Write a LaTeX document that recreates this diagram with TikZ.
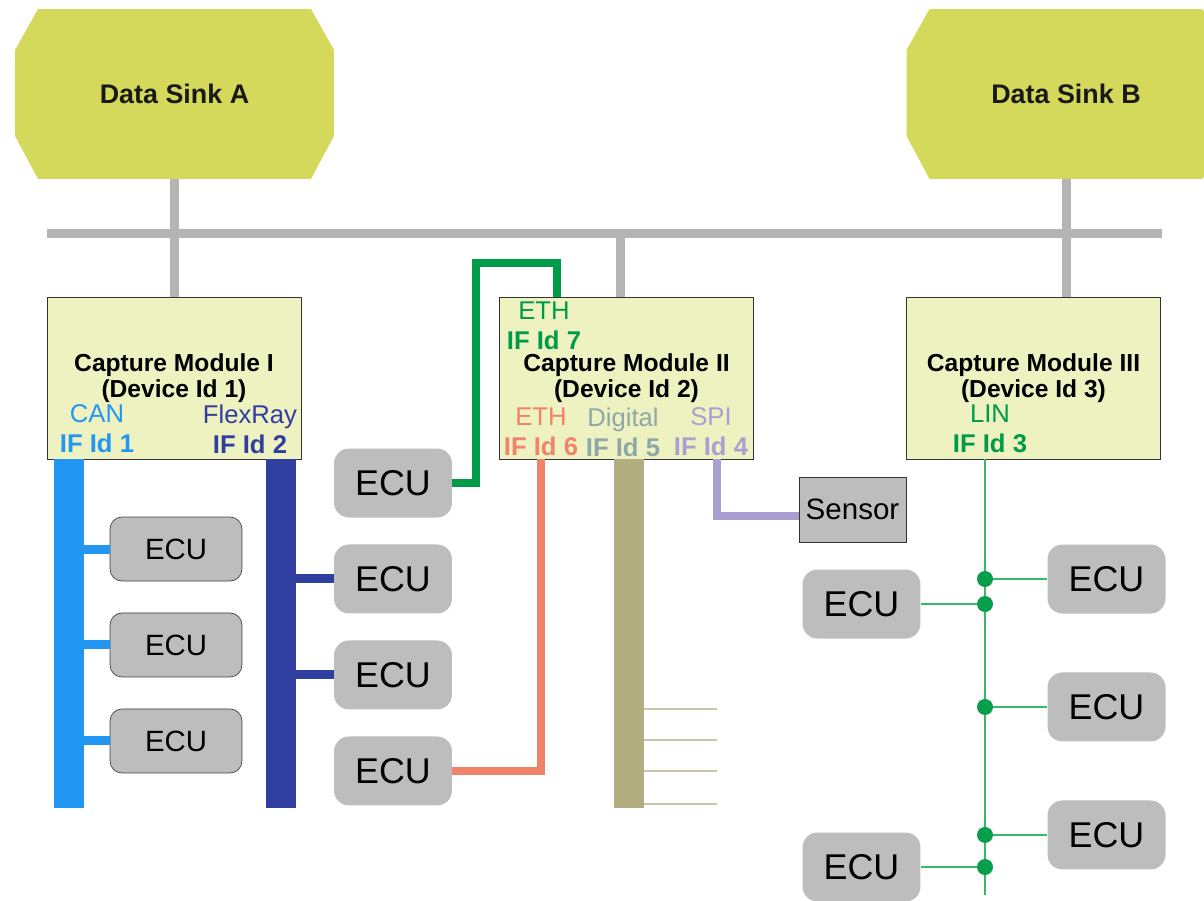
\documentclass[tikz,border=0pt]{standalone}
\usepackage{fontspec}
\setmainfont{Liberation Sans}
\usetikzlibrary{positioning}

\definecolor{sinkgreen}{HTML}{D4D95B}
\definecolor{modfill}{HTML}{EEF2C1}
\definecolor{busgrey}{HTML}{B4B4B4}
\definecolor{ecugrey}{HTML}{BDBDBD}
\definecolor{canblue}{HTML}{2196F3}
\definecolor{frblue}{HTML}{303F9F}
\definecolor{ethgreen}{HTML}{009B48}
\definecolor{ethsalmon}{HTML}{F0836A}
\definecolor{digitext}{HTML}{8EA8A8}
\definecolor{digikhaki}{HTML}{B2AE82}
\definecolor{spilav}{HTML}{A99FD1}
\definecolor{lingreen}{HTML}{3DB56A}

\begin{document}
\begin{tikzpicture}[x=0.02cm,y=-0.02cm,node distance=1.92cm,on grid,
   sink/.style={minimum width=6.38cm,minimum height=3.4cm,inner sep=0pt,
     text=black!90,font=\fontsize{15.3}{18}\selectfont\bfseries,
     path picture={\fill[sinkgreen]
       ([xshift=0.46cm]path picture bounding box.north west)
       -- ([xshift=-0.46cm]path picture bounding box.north east)
       -- ([yshift=-0.82cm]path picture bounding box.north east)
       -- ([yshift=0.86cm]path picture bounding box.south east)
       -- ([xshift=-0.46cm]path picture bounding box.south east)
       -- ([xshift=0.46cm]path picture bounding box.south west)
       -- ([yshift=0.86cm]path picture bounding box.south west)
       -- ([yshift=-0.82cm]path picture bounding box.north west) -- cycle;}},
   module/.style={draw=black!80,fill=modfill,minimum width=5.08cm,
     minimum height=3.24cm,inner sep=0pt,align=center,
     font=\fontsize{14}{14.6}\selectfont\bfseries},
   iface/.style={align=center,inner sep=0pt,font=\fontsize{14.6}{17}\selectfont},
   ecu/.style={rounded corners=0.3cm,fill=ecugrey,minimum width=2.36cm,
     minimum height=1.38cm,font=\fontsize{20.4}{24}\selectfont},
   ecu small/.style={ecu,draw=black!75,rounded corners=0.24cm,minimum width=2.64cm,
     minimum height=1.28cm,font=\fontsize{16.7}{20}\selectfont},
   sensor/.style={draw=black!80,fill=ecugrey,minimum width=2.14cm,
     minimum height=1.3cm,font=\fontsize{16.8}{20}\selectfont},
   backbone/.style={busgrey,line width=0.18cm},
   canbus/.style={canblue,line width=0.62cm},
   frbus/.style={frblue,line width=0.62cm},
   digiline/.style={digikhaki,line width=0.6cm},
   stub/.style={line width=0.18cm},
   link/.style={line width=0.16cm},
   linlink/.style={lingreen,line width=0.03cm},
   dot/.style={ethgreen!90!lingreen}]
   \useasboundingbox (0,0) rectangle (1204,900);
   \clip (0,0) rectangle (1204,900);

   % data sinks and the backbone
   \node[sink] (sinkA) at (174.5,94) {Data Sink A};
   \node[sink] (sinkB) at (1066,94) {Data Sink B};
   \coordinate (busW) at (47,233);
   \coordinate (busE) at (1162,233);
   \coordinate (tapII) at (620,233);

   % capture modules
   \node[module] (modI) at (174,378) {Capture Module I\\(Device Id 1)};
   \node[module] (modII) at (626.5,378) {Capture Module II\\(Device Id 2)};
   \node[module] (modIII) at (1033.5,378) {Capture Module III\\(Device Id 3)};

   \draw[backbone] (busW) -- (busE);
   \draw[backbone] (sinkA.south) -- (sinkA.south |- modI.north);
   \draw[backbone] (sinkB.south) -- (sinkB.south |- modIII.north);
   \draw[backbone] (tapII) -- (tapII |- modII.north);

   % interfaces
   \node[iface,text=canblue] (ifCan) at (97,429) {CAN\\\textbf{IF Id 1}};
   \node[iface,text=frblue] (ifFr) at (250,429) {FlexRay\\\textbf{IF Id 2}};
   \node[iface,text=ethgreen] (ifEthA) at (544,326) {ETH\\\textbf{IF Id 7}};
   \node[iface,text=ethsalmon] (ifEthB) at (541,432) {ETH\\\textbf{IF Id 6}};
   \node[iface,text=digitext] (ifDig) at (623,432) {Digital\\\textbf{IF Id 5}};
   \node[iface,text=spilav] (ifSpi) at (711,432) {SPI\\\textbf{IF Id 4}};
   \node[iface,text=ethgreen] (ifLin) at (990,429) {LIN\\\textbf{IF Id 3}};

   % CAN and FlexRay
   \node[ecu small] (ecuC1) at (176,549) {ECU};
   \node[ecu small] (ecuC2) [below=of ecuC1] {ECU};
   \node[ecu small] (ecuC3) [below=of ecuC2] {ECU};
   \node[ecu] (ecuE7) at (393,483) {ECU};
   \node[ecu] (ecuF1) [below=of ecuE7] {ECU};
   \node[ecu] (ecuF2) [below=of ecuF1] {ECU};
   \node[ecu] (ecuE6) [below=of ecuF2] {ECU};
   \coordinate (canEnd) at (69,808);
   \coordinate (frEnd) at (281,808);
   \draw[canbus] (canEnd |- modI.south) -- (canEnd);
   \draw[frbus] (frEnd |- modI.south) -- (frEnd);
   \foreach \e in {ecuC1,ecuC2,ecuC3}
     \draw[stub,canblue] (\e.west -| canEnd) -- (\e.west);
   \foreach \e in {ecuF1,ecuF2}
     \draw[stub,frblue] (\e.west -| frEnd) -- (\e.west);

   % ethernet links
   \coordinate (ethA) at (476,263);
   \coordinate (ethB) at (557,263);
   \coordinate (ethC) at (541,770);
   \draw[link,ethgreen] (ecuE7.east) -| (ethA) -- (ethB) -- (ethB |- modII.north);
   \draw[link,ethsalmon] (ethC |- modII.south) |- (ecuE6.east);

   % digital lines
   \coordinate (digEnd) at (629,808);
   \draw[digiline] (digEnd |- modII.south) -- (digEnd);
   \foreach \y in {709,740,771,804}
     \draw[digikhaki!70,line width=0.03cm] (644,\y) -- (717,\y);

   % SPI sensor
   \node[sensor] (sensor) at (852.5,509.5) {Sensor};
   \coordinate (spiBend) at (717,516);
   \draw[link,spilav] (spiBend |- modII.south) -- (spiBend) -- (spiBend -| sensor.west);

   % LIN
   \node[ecu] (ecuR1) at (1106.5,579) {ECU};
   \node[ecu] (ecuR2) [below=2.56cm of ecuR1] {ECU};
   \node[ecu] (ecuR3) [below=2.56cm of ecuR2] {ECU};
   \node[ecu] (ecuL1) at (861.5,604) {ECU};
   \node[ecu] (ecuL2) at (861.5,867) {ECU};
   \coordinate (linEnd) at (985,895);
   \draw[linlink] (linEnd |- modIII.south) -- (linEnd);
   \foreach \e in {ecuR1,ecuR2,ecuR3} {
     \draw[linlink] (\e.west -| linEnd) -- (\e.west);
     \fill[dot] (\e.west -| linEnd) circle (0.16cm);
   }
   \foreach \e in {ecuL1,ecuL2} {
     \draw[linlink] (\e.east) -- (\e.east -| linEnd);
     \fill[dot] (\e.east -| linEnd) circle (0.16cm);
   }
\end{tikzpicture}
\end{document}
